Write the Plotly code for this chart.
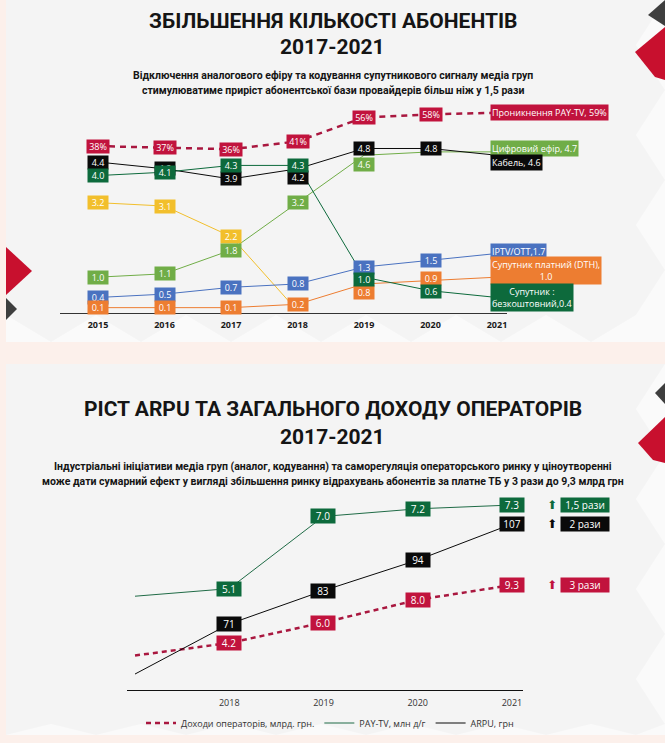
import plotly.graph_objects as go

W, H = 665, 743
def px(x): return x / W
def py(y): return 1 - y / H

# ---------------- data: top chart (subscribers, mln households) ----------------
years_top = [2015, 2016, 2017, 2018, 2019, 2020, 2021]
pay_tv_pct = [38, 37, 36, 41, 56, 58, 59]
cable = [4.4, 4.2, 3.9, 4.2, 4.8, 4.8, 4.6]
sat_free = [4.0, 4.1, 4.3, 4.3, 1.0, 0.6, 0.4]
digital = [1.0, 1.1, 1.8, 3.2, 4.6, 4.7, 4.7]
analog = [3.2, 3.1, 2.2, 0.0, None, None, None]
iptv = [0.4, 0.5, 0.7, 0.8, 1.3, 1.5, 1.7]
dth = [0.1, 0.1, 0.1, 0.2, 0.8, 0.9, 1.0]

end_labels = {
    "pct": "Проникнення PAY-TV, 59%",
    "digital": "Цифровий ефір, 4.7",
    "cable": "Кабель, 4.6",
    "iptv": "IPTV/OTT,1.7",
    "dth": "Супутник платний (DTH),<br>1.0",
    "sat_free": "Супутник :<br>безкоштовний,0.4",
}

# ---------------- data: bottom chart ----------------
years_bot = [2017, 2018, 2019, 2020, 2021]
revenue = [3.1, 4.2, 6.0, 8.0, 9.3]
paytv_hh = [4.9, 5.1, 7.0, 7.2, 7.3]
arpu = [53, 71, 83, 94, 107]
growth_labels = ["1,5 рази", "2 рази", "3 рази"]
legend_names = ["Доходи операторів, млрд. грн.", "PAY-TV, млн д/г", "ARPU, грн"]

# ---------------- styles ----------------
C_RED = "#C1133D"
C_RED_LINE = "#A9173F"
C_BLACK = "#0A0A0A"
C_DGREEN = "#0D6A3C"
C_LGREEN = "#70AD47"
C_YELLOW = "#F2BF2C"
C_BLUE = "#4A72C0"
C_ORANGE = "#ED7D31"
TITLE_FONT = "Roboto, Noto Sans, sans-serif"
BOX_FONT = "Open Sans, Noto Sans, sans-serif"

fig = go.Figure()

# top traces
top_series = [
    ("analog", analog, C_YELLOW, "y"),
    ("digital", digital, C_LGREEN, "y"),
    ("iptv", iptv, C_BLUE, "y"),
    ("dth", dth, C_ORANGE, "y"),
    ("cable", cable, C_BLACK, "y"),
    ("sat_free", sat_free, C_DGREEN, "y"),
]
for name, vals, col, ya in top_series:
    fig.add_trace(go.Scatter(x=years_top, y=vals, mode="lines", line=dict(color=col, width=1),
                             xaxis="x", yaxis=ya, showlegend=False, hoverinfo="skip"))
fig.add_trace(go.Scatter(x=years_top, y=pay_tv_pct, mode="lines",
                         line=dict(color=C_RED_LINE, width=2.5, dash="6px,5px"),
                         xaxis="x", yaxis="y2", showlegend=False, hoverinfo="skip"))

# bottom traces
fig.add_trace(go.Scatter(x=years_bot, y=revenue, mode="lines", name=legend_names[0],
                         line=dict(color=C_RED_LINE, width=2.5, dash="5px,4px"),
                         xaxis="x2", yaxis="y3"))
fig.add_trace(go.Scatter(x=years_bot, y=paytv_hh, mode="lines", name=legend_names[1],
                         line=dict(color="#1F6B46", width=1), xaxis="x2", yaxis="y4"))
fig.add_trace(go.Scatter(x=years_bot, y=arpu, mode="lines", name=legend_names[2],
                         line=dict(color=C_BLACK, width=1), xaxis="x2", yaxis="y5"))

ann = []

def box(x, y, text, bg, xref, yref, size=9, w=18, h=11, ys=0, xs=0, xanchor="center", align="center"):
    d = dict(x=x, y=y, xref=xref, yref=yref, text=text, showarrow=False,
             font=dict(family=BOX_FONT, size=size, color="white"), bgcolor=bg,
             borderpad=1, xanchor=xanchor, yanchor="middle", yshift=ys, xshift=xs, align=align)
    if w:
        d["width"] = w
    if h:
        d["height"] = h
    ann.append(d)

# label offsets (px) to keep boxes readable
shift = {("cable", 2018): -9, ("digital", 2019): -9, ("dth", 2019): -9, ("sat_free", 2019): -2,
         ("dth", 2020): 2, ("sat_free", 2020): -1}

order = [("analog", analog, C_YELLOW), ("digital", digital, C_LGREEN), ("iptv", iptv, C_BLUE),
         ("dth", dth, C_ORANGE), ("cable", cable, C_BLACK), ("sat_free", sat_free, C_DGREEN)]
for name, vals, col in order:
    for yr, v in zip(years_top[:-1], vals[:-1]):
        if v is None:
            continue
        if name == "analog" and v == 0.0:
            continue
        if name == "digital" and yr == 2020:
            continue
        box(yr, v, f"{v:.1f}", col, "x", "y", ys=shift.get((name, yr), 0))
for yr, v in zip(years_top[:-1], pay_tv_pct[:-1]):
    box(yr, v, f"{v}%", C_RED, "x", "y2", w=20)

# end labels at 2021
end_spec = [
    ("pct", pay_tv_pct[-1], C_RED, "y2", 0),
    ("digital", digital[-1], C_LGREEN, "y", 3),
    ("cable", cable[-1], C_BLACK, "y", -7),
    ("iptv", iptv[-1], C_BLUE, "y", 2),
    ("dth", dth[-1], C_ORANGE, "y", 7),
    ("sat_free", sat_free[-1], C_DGREEN, "y", 0),
]
for name, v, col, ya, ys in end_spec:
    box(2021, v, end_labels[name], col, "x", ya, size=9, w=None, h=None, ys=ys, xs=-7,
        xanchor="left", align="center")

# bottom boxes
for yr, v in zip(years_bot[1:], revenue[1:]):
    box(yr, v, f"{v:.1f}", C_RED, "x2", "y3", size=10, w=22, h=12)
for yr, v in zip(years_bot[1:], paytv_hh[1:]):
    box(yr, v, f"{v:.1f}", C_DGREEN, "x2", "y4", size=10, w=22, h=12)
for yr, v in zip(years_bot[1:], arpu[1:]):
    box(yr, v, f"{v}", C_BLACK, "x2", "y5", size=10, w=22, h=12)

# growth tags
for (val, ya, col), lab in zip([(paytv_hh[-1], "y4", C_DGREEN), (arpu[-1], "y5", C_BLACK),
                                (revenue[-1], "y3", C_RED)], growth_labels):
    ann.append(dict(x=2021, y=val, xref="x2", yref=ya, text="⬆", showarrow=False,
                    font=dict(family="DejaVu Sans", size=12, color=col), xshift=40, yanchor="middle"))
    box(2021, val, lab, col, "x2", ya, size=10, w=46, h=12, xs=73)

# titles
def title(y, text, size, bold=True, family=TITLE_FONT, color="#151515"):
    ann.append(dict(x=0.5, y=py(y), xref="paper", yref="paper", text=f"<b>{text}</b>" if bold else text,
                    showarrow=False, font=dict(family=family, size=size, color=color),
                    xanchor="center", yanchor="middle"))

title(21, "ЗБІЛЬШЕННЯ КІЛЬКОСТІ АБОНЕНТІВ", 21)
title(47, "2017-2021", 21)
title(75, "Відключення аналогового ефіру та кодування супутникового сигналу медіа груп", 10.5)
title(90, "стимулюватиме приріст абонентської бази провайдерів більш ніж у 1,5 рази", 10.5)
title(409, "РІСТ ARPU ТА ЗАГАЛЬНОГО ДОХОДУ ОПЕРАТОРІВ", 21)
title(437, "2017-2021", 21)
title(466, "Індустріальні ініціативи медіа груп (аналог, кодування) та саморегуляція операторського ринку у ціноутворенні", 10.5)
title(481, "може дати сумарний ефект у вигляді збільшення ринку відрахувань абонентів за платне ТБ у 3 рази до 9,3 млрд грн", 10.5)

# ---------------- decorative shapes ----------------
shapes = []
def rect(x0, y0, x1, y1, color):
    shapes.append(dict(type="rect", xref="paper", yref="paper", x0=px(x0), x1=px(x1),
                       y0=py(y1), y1=py(y0), fillcolor=color, line=dict(width=0), layer="below"))
def poly(pts, color):
    p = "M " + " L ".join(f"{px(a):.5f},{py(b):.5f}" for a, b in pts) + " Z"
    shapes.append(dict(type="path", xref="paper", yref="paper", path=p, fillcolor=color,
                       line=dict(width=0), layer="below"))

rect(6, 0, 665, 342, "#FAFAFA")
rect(6, 364, 665, 735, "#FAFAFA")
# faint diamond texture
step = 90
for panel in [(6, 0, 665, 342), (6, 364, 665, 735)]:
    x0, y0, x1, y1 = panel
    r = step / 2
    j = 0
    yy = y0
    while yy <= y1:
        xx = x0 + (j % 2) * r
        while xx <= x1:
            pts = [(max(x0, xx - r), yy), (xx, max(y0, yy - r)), (min(x1, xx + r), yy), (xx, min(y1, yy + r))]
            pts = [(min(max(a, x0), x1), min(max(b, y0), y1)) for a, b in pts]
            poly(pts, "rgba(0,0,0,0.022)")
            xx += step
        yy += r
        j += 1

# corner ornaments
poly([(648, 15), (665, 0), (665, 26)], "#3E3E3E")
poly([(635, 52), (665, 27), (665, 80), (655, 77)], "#C8102E")
poly([(6, 247), (32, 271), (6, 295)], "#C8102E")
poly([(6, 298), (17, 309), (6, 320)], "#3E3E3E")
poly([(655, 393), (665, 383), (665, 404)], "#3E3E3E")
poly([(638, 443), (665, 417), (665, 463), (653, 460)], "#C8102E")

fig.update_layout(
    width=W, height=H, autosize=False,
    margin=dict(l=0, r=0, t=0, b=0),
    paper_bgcolor="#FCF0EB", plot_bgcolor="rgba(0,0,0,0)",
    annotations=ann, shapes=shapes,
    xaxis=dict(domain=[px(60), px(507)], range=[2015 - 38 / 66.5, 2021 + 10 / 66.5], anchor="y",
               tickvals=years_top, ticktext=[f"<b>{y}</b>" for y in years_top],
               tickfont=dict(family=BOX_FONT, size=9, color="#1a1a1a"),
               showline=True, linecolor="#333", linewidth=1, showgrid=False, zeroline=False,
               ticks="", ticklabelstandoff=3, fixedrange=True),
    yaxis=dict(domain=[py(313), py(100)], range=[-0.058, 6.232], visible=False, anchor="x"),
    yaxis2=dict(overlaying="y", range=[-67, 67], visible=False, anchor="x"),
    xaxis2=dict(domain=[px(127), px(523)], range=[2016.915, 2021.117], anchor="y3",
                tickvals=years_bot[1:], tickfont=dict(family=BOX_FONT, size=9, color="#333"),
                showline=True, linecolor="#111", linewidth=1, showgrid=False, zeroline=False,
                ticks="", ticklabelstandoff=4),
    yaxis3=dict(domain=[py(690), py(490)], range=[0.066, 17.66], visible=False, anchor="x2"),
    yaxis4=dict(overlaying="y3", range=[2.432, 7.695], visible=False, anchor="x2"),
    yaxis5=dict(overlaying="y3", range=[47.26, 119.2], visible=False, anchor="x2"),
    legend=dict(orientation="h", x=px(330), xanchor="center", y=py(723), yanchor="middle",
                font=dict(family=BOX_FONT, size=9, color="#333"), bgcolor="rgba(0,0,0,0)",
                itemwidth=30, tracegroupgap=0),
)

fig.write_html("out.html")
